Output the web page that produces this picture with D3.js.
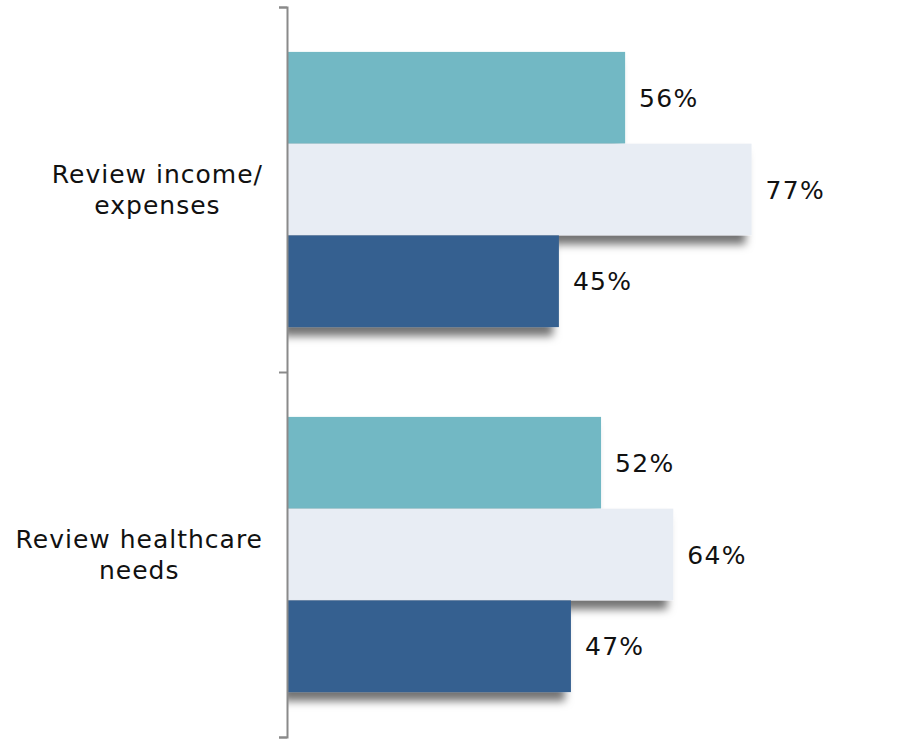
<!DOCTYPE html>
<html><head><meta charset="utf-8">
<script src="https://cdn.jsdelivr.net/npm/d3@7"></script>
<style>body{margin:0;background:#fff}svg{display:block}</style>
</head><body>
<svg id="c" width="914" height="744"></svg>
<script>
const categories = [["Review income/","expenses"],["Review healthcare","needs"]];
const series = ["Series A","Series B","Series C"];
const values = [[56,77,45],[52,64,47]];
const colors = ["#72b8c4","#e8edf4","#356090"];

const svg = d3.select("#c");
const defs = svg.append("defs");
const f = defs.append("filter").attr("id","sh").attr("x","-10%").attr("y","-10%").attr("width","130%").attr("height","170%");
f.append("feDropShadow").attr("dx",-6).attr("dy",9).attr("stdDeviation",4).attr("flood-color","#000").attr("flood-opacity",0.55);

const FONT = "DejaVu Sans, Verdana, sans-serif";
const x = d3.scaleLinear().domain([0,100]).range([288,890]);
const y0 = d3.scaleBand().domain(d3.range(categories.length)).range([7,737]).paddingInner(0.246).paddingOuter(0.123);
const y1 = d3.scaleBand().domain(d3.range(series.length)).range([0,y0.bandwidth()]);

defs.append("clipPath").attr("id","plot").append("rect")
  .attr("x",x(0)).attr("y",0).attr("width",914-x(0)).attr("height",744);

const g = svg.append("g").attr("clip-path","url(#plot)");
categories.forEach((c,i)=>{
  const gg = g.append("g").attr("transform",`translate(0,${y0(i)})`);
  d3.range(series.length).forEach(j=>{
    gg.append("rect").attr("x",x(0)).attr("y",y1(j)).attr("width",x(values[i][j])-x(0)).attr("height",y1.bandwidth())
      .attr("fill",colors[j]).attr("filter","url(#sh)");
  });
});
categories.forEach((c,i)=>{
  d3.range(series.length).forEach(j=>{
    svg.append("text").attr("x",x(values[i][j])+14).attr("y",y0(i)+y1(j)+y1.bandwidth()/2).attr("dy","0.36em")
      .attr("font-family",FONT).attr("font-size",25).attr("letter-spacing",1.3).attr("fill","#111")
      .text(values[i][j]+"%");
  });
});

// axis
const yAxisScale = d3.scaleLinear().domain([0,categories.length]).range([7,737]);
const ax = svg.append("g").attr("transform","translate(287,0)")
  .call(d3.axisLeft(yAxisScale).ticks(categories.length).tickSizeInner(8).tickSizeOuter(8).tickFormat(""));
ax.selectAll("path,line").attr("stroke","#8a8a8a").attr("stroke-width",2);

// category labels: block right-aligned near axis, lines centred within block
const RIGHT = 263;
categories.forEach((c,i)=>{
  const cy = y0(i)+y0.bandwidth()/2;
  const t = svg.append("text").attr("text-anchor","middle")
    .attr("font-family",FONT).attr("font-size",25).attr("letter-spacing",1).attr("fill","#111");
  const spans = c.map((line,k)=> t.append("tspan").attr("y",cy+(k-(c.length-1)/2)*31).attr("dy","0.36em").text(line));
  const w = d3.max(spans, s=>s.node().getComputedTextLength());
  spans.forEach(s=>s.attr("x",RIGHT - w/2));
});
</script>
</body></html>
